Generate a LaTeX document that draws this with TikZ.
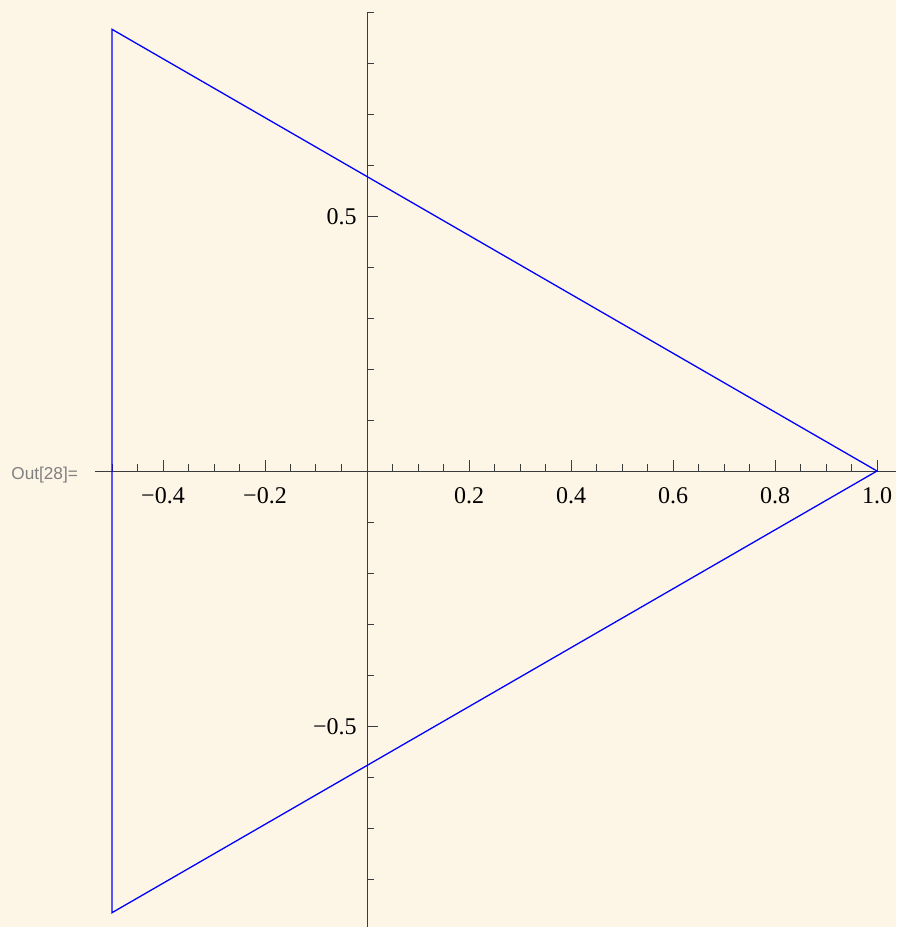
\documentclass[tikz,border=0pt]{standalone}
\usepackage{fontspec}
\setmainfont{Liberation Serif}
\newfontfamily\outfont{Liberation Sans}
\definecolor{bgcream}{RGB}{253,245,230}
\definecolor{axisgray}{RGB}{60,60,60}
\definecolor{outgray}{RGB}{128,128,128}
\begin{document}
\begin{tikzpicture}[x=0.5pt,y=-0.5pt,
  axisline/.style={draw=axisgray,line width=0.5pt},
  tickline/.style={draw=axisgray,line width=0.5pt},
  curve/.style={draw=blue,line width=0.65pt,line join=miter},
  ticklabel/.style={inner sep=0pt,font=\fontsize{12}{14}\selectfont},
  outlabel/.style={inner sep=0pt,anchor=base west,text=outgray,font=\outfont\fontsize{8.6}{10}\selectfont}]
\fill[bgcream] (0,0) rectangle (896,927);
\useasboundingbox (0,0) rectangle (896,927);
% axes
\coordinate (xl) at (95,471);
\coordinate (xr) at (896,471);
\coordinate (yt) at (367,12);
\coordinate (yb) at (367,927);
\draw[axisline] (xl) -- (xr);
\draw[axisline] (yt) -- (yb);
% x minor ticks
\foreach \u in {-0.5,-0.45,-0.35,-0.3,-0.25,-0.15,-0.1,-0.05,0.05,0.1,0.15,0.25,0.3,0.35,0.45,0.5,0.55,0.65,0.7,0.75,0.85,0.9,0.95}
  \draw[tickline] ({367+510*\u},471) -- ++(0,-7);
% x major ticks and labels
\foreach \u/\t in {-0.4/{−0.4},-0.2/{−0.2},0.2/0.2,0.4/0.4,0.6/0.6,0.8/0.8,1.0/1.0}{
  \draw[tickline] ({367+510*\u},471) -- ++(0,-11);
  \node[ticklabel,anchor=base] (xlab\u) at ({367+510*\u},503) {\t};
}
% y minor ticks
\foreach \v in {-0.8,-0.7,-0.6,-0.4,-0.3,-0.2,-0.1,0,0.1,0.2,0.3,0.4,0.6,0.7,0.8,0.9}
  \draw[tickline] (367,{471-510*\v}) -- ++(7,0);
% y major ticks and labels
\foreach \v/\t in {0.5/0.5,-0.5/{−0.5}}{
  \draw[tickline] (367,{471-510*\v}) -- ++(11,0);
  \node[ticklabel,anchor=base east] (ylab\v) at (357,{471-510*\v+8.5}) {\t};
}
% triangle
\coordinate (A) at (877,471);
\coordinate (B) at (112,29.3);
\coordinate (C) at (112,912.7);
\draw[curve] (A) -- (B) -- (C) -- cycle;
% output label
\node[outlabel] (out) at (11,479.5) {Out[28]=};
\end{tikzpicture}
\end{document}
